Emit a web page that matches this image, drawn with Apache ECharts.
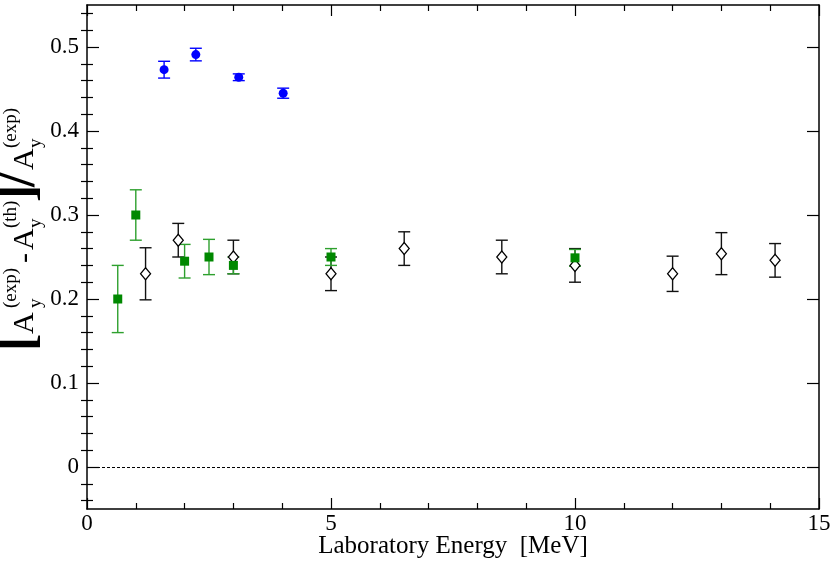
<!DOCTYPE html>
<html><head><meta charset="utf-8">
<script src="https://cdn.jsdelivr.net/npm/echarts@6/dist/echarts.min.js"></script>
<style>html,body{margin:0;padding:0;background:#fff}#c{width:830px;height:561px}</style>
</head><body><div id="c"></div>
<script>
// ---- data ----
const blueX   = [1.58, 2.23, 3.11, 4.02];
const blueY   = [0.473, 0.491, 0.464, 0.445];
const blueErr = [0.010, 0.0075, 0.004, 0.006];

const greenX   = [0.63, 1.0, 2.0, 2.5, 3.0, 5.0, 10.0];
const greenY   = [0.200, 0.300, 0.245, 0.250, 0.240, 0.250, 0.249];
const greenErr = [0.040, 0.030, 0.020, 0.021, 0.010, 0.010, 0.010];

const blackX   = [1.2, 1.87, 3.0, 5.0, 6.5, 8.5, 10.0, 12.0, 13.0, 14.1];
const blackY   = [0.230, 0.270, 0.250, 0.230, 0.260, 0.250, 0.240, 0.230, 0.254, 0.246];
const blackErr = [0.031, 0.020, 0.020, 0.020, 0.020, 0.020, 0.020, 0.021, 0.025, 0.020];

const yMajorTicks = [0, 0.1, 0.2, 0.3, 0.4, 0.5];
const yMinorTicks = [-0.04, -0.02, 0.02, 0.04, 0.06, 0.08, 0.12, 0.14, 0.16, 0.18,
  0.22, 0.24, 0.26, 0.28, 0.32, 0.34, 0.36, 0.38, 0.42, 0.44, 0.46, 0.48, 0.52, 0.54];
const xName = 'Laboratory Energy  [MeV]';

// ---- helpers ----
const FONT = '"Liberation Serif", "Times New Roman", serif';
const pts = (xs, ys) => xs.map((x, i) => [x, ys[i]]);
const bars = (xs, ys, es) => xs.map((x, i) => [x, ys[i] - es[i], ys[i] + es[i]]);
function errRender(color, cap) {
  return function (params, api) {
    const x = api.value(0), lo = api.value(1), hi = api.value(2);
    const a = api.coord([x, hi]), b = api.coord([x, lo]);
    const st = { stroke: color, lineWidth: 1.4 };
    return { type: 'group', children: [
      { type: 'line', shape: { x1: a[0], y1: a[1], x2: b[0], y2: b[1] }, style: st },
      { type: 'line', shape: { x1: a[0] - cap, y1: a[1], x2: a[0] + cap, y2: a[1] }, style: st },
      { type: 'line', shape: { x1: b[0] - cap, y1: b[1], x2: b[0] + cap, y2: b[1] }, style: st }
    ]};
  };
}
function errSeries(data, color) {
  return { type: 'custom', data: data, encode: { x: 0, y: [1, 2] },
    renderItem: errRender(color, 6), silent: true, z: 2 };
}

const black = '#000';
const axisLine = { show: true, onZero: false, lineStyle: { color: black, width: 1.5 } };
const xBase = { type: 'value', min: 0, max: 15, interval: 5, splitLine: { show: false },
  axisLine: axisLine,
  axisTick: { inside: true, length: 11, lineStyle: { color: black, width: 1.2 } },
  minorTick: { show: true, splitNumber: 5, length: 6, lineStyle: { color: black, width: 1.2 } } };
const yBase = { type: 'value', min: -0.05, max: 0.55, splitLine: { show: false } };

// y-axis label built from text pieces (rotated group)
const A = 30, S = 19, B = 52;
function t(text, x, y, size, weight) {
  return { type: 'text', x: x, y: y, style: { text: text, fontSize: size, fontFamily: FONT,
    fontWeight: weight || 'normal', fill: black, verticalAlign: 'middle', align: 'left' } };
}
const yLabel = { type: 'group', x: 25, y: 351, rotation: Math.PI / 2, children: [
  t('[', 0, -5, B, 'bold'),
  t('A', 17, 0, A), t('(exp)', 43, -14, S), t('y', 43, 11, S),
  t('-', 88, 0, A),
  t('A', 101, 0, A), t('(th)', 123, -14, S), t('y', 123, 11, S),
  t(']', 149, -5, B, 'bold'),
  t('/', 164, -4, B, 'bold'),
  t('A', 181, 0, A), t('(exp)', 203, -14, S), t('y', 203, 11, S)
]};

const option = {
  animation: false,
  backgroundColor: '#fff',
  grid: { left: 87, right: 11, top: 5, bottom: 52, containLabel: false, outerBoundsMode: 'none' },
  xAxis: [
    Object.assign({}, xBase, { position: 'bottom',
      axisLabel: { color: black, fontFamily: FONT, fontSize: 23, margin: 3 },
      name: xName, nameLocation: 'middle', nameGap: 25, nameMoveOverlap: false,
      nameTextStyle: { color: black, fontFamily: FONT, fontSize: 25 } }),
    Object.assign({}, xBase, { position: 'top', axisLabel: { show: false } })
  ],
  yAxis: [
    Object.assign({}, yBase, { position: 'left', axisLine: axisLine,
      axisTick: { inside: true, length: 12, customValues: yMajorTicks, lineStyle: { color: black, width: 1.2 } },
      axisLabel: { customValues: yMajorTicks, color: black, fontFamily: FONT, fontSize: 23, margin: 8 } }),
    Object.assign({}, yBase, { position: 'left', axisLine: { show: false },
      axisTick: { inside: true, length: 6, customValues: yMinorTicks, lineStyle: { color: black, width: 1.2 } },
      axisLabel: { show: false } }),
    Object.assign({}, yBase, { position: 'right', axisLine: axisLine,
      axisTick: { inside: true, length: 12, customValues: yMajorTicks, lineStyle: { color: black, width: 1.2 } },
      axisLabel: { show: false } }),
    Object.assign({}, yBase, { position: 'right', axisLine: { show: false },
      axisTick: { inside: true, length: 6, customValues: yMinorTicks, lineStyle: { color: black, width: 1.2 } },
      axisLabel: { show: false } })
  ],
  graphic: [yLabel],
  series: [
    errSeries(bars(blackX, blackY, blackErr), '#111'),
    { type: 'scatter', data: pts(blackX, blackY), symbol: 'diamond', symbolSize: [10, 12], z: 3,
      itemStyle: { color: '#fff', borderColor: black, borderWidth: 1.3, opacity: 1 },
      markLine: { silent: true, symbol: 'none', label: { show: false },
        lineStyle: { color: black, type: [3, 2], width: 1 }, data: [{ yAxis: 0 }] } },
    errSeries(bars(greenX, greenY, greenErr), '#2ea02e'),
    { type: 'scatter', data: pts(greenX, greenY), symbol: 'rect', symbolSize: 9, z: 4,
      itemStyle: { color: '#008800', opacity: 1 } },
    errSeries(bars(blueX, blueY, blueErr), '#0000ff'),
    { type: 'scatter', data: pts(blueX, blueY), symbol: 'circle', symbolSize: 9, z: 4,
      itemStyle: { color: '#0000ff', opacity: 1 } }
  ]
};
echarts.init(document.getElementById('c')).setOption(option);
</script>
</body></html>
